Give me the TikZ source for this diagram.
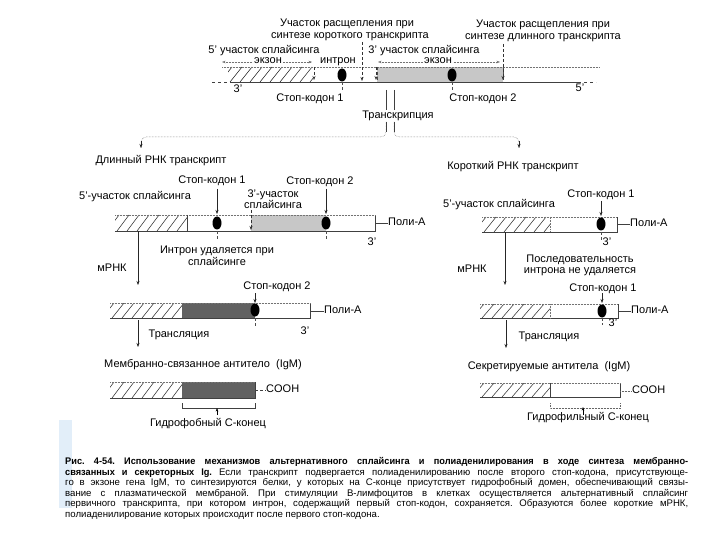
\documentclass[tikz,border=0pt]{standalone}
\usepackage{fontspec}
\setmainfont{Liberation Sans}
\newfontfamily\capfont[BoldFeatures={FakeStretch=0.96}]{Liberation Sans}
\usetikzlibrary{arrows.meta}
\definecolor{scanblue}{RGB}{226,238,249}
\frenchspacing
\newcommand\myhatch[4]{%
  \begin{scope}
    \clip (#1,#2) rectangle (#3,#4);
    \foreach \k in {0,...,16}{
      \draw[hline] ({#1-8+\k*10},#4) -- ({#1+4+\k*10},#2);
    }
  \end{scope}}
\begin{document}
\begin{tikzpicture}[x=1pt,y=-1pt,
  lbl/.style={font=\fontsize{11}{12}\selectfont, inner sep=0pt, text height=7.9pt, text depth=2.1pt},
  hline/.style={line width=0.55pt, black!80},
  boxline/.style={line width=0.5pt, black!75},
  topline/.style={line width=0.5pt, black!55, densely dotted},
  tick/.style={line width=0.5pt, black!70, densely dashed},
  arr/.style={line width=0.5pt, black!85, -{Stealth[length=4pt,width=3pt]}},
  darr/.style={line width=0.5pt, black!80, densely dashed, -{Stealth[length=4pt,width=3pt]}},
  dim/.style={line width=0.5pt, black!55, densely dotted, {Stealth[length=3.5pt,width=2.6pt]}-{Stealth[length=3.5pt,width=2.6pt]}},
  light/.style={fill=black!22},
  dark/.style={fill=black!62},
  captxt/.style={font=\capfont\fontsize{9.6}{10.5}\selectfont, inner sep=0pt, anchor=base west},
]
\useasboundingbox (0,0) rectangle (720,540);
\fill[white] (0,0) rectangle (720,540);
\fill[scanblue] (59,420) rectangle (72,508);

% ---------------- top: gene ----------------
\node[lbl] (csa1) at (347,24) {Участок расщепления при};
\node[lbl] (csa2) at (350,36) {синтезе короткого транскрипта};
\node[lbl] (csb1) at (543,25) {Участок расщепления при};
\node[lbl] (csb2) at (543,37) {синтезе длинного транскрипта};
\node[lbl] (ss5) at (264,51) {5' участок сплайсинга};
\node[lbl] (ss3) at (424,51) {3' участок сплайсинга};

\coordinate (ex1l) at (222,62); \coordinate (ex1r) at (312,62);
\coordinate (ex2l) at (378,62); \coordinate (ex2r) at (500,62);
\draw[dim] (ex1l) -- (ex1r);
\draw[dim] (ex2l) -- (ex2r);
\node[lbl, fill=white, inner xsep=1.5pt] (exon1) at (268,61) {экзон};
\node[lbl, fill=white, inner xsep=1.5pt] (exon2) at (438,61) {экзон};
\node[lbl] (intron) at (338,61) {интрон};

\myhatch{228}{67}{313}{82}
\fill[light] (377,67) rectangle (503,82);
\draw[topline] (222,67) -- (600,67);
\draw[boxline] (232,82) -- (578,82);
\draw[boxline, dashed] (212,82) -- (232,82);
\draw[boxline, dashed] (578,82) -- (596,82);
\draw[tick] (377,67) -- (377,82);
\draw[tick] (503,67) -- (503,82);

\coordinate (m1a) at (314,67); \coordinate (m1b) at (314,80);
\coordinate (m2a) at (362,42); \coordinate (m2b) at (362,81);
\coordinate (m3a) at (376,67); \coordinate (m3b) at (376,80);
\coordinate (m4a) at (503,44); \coordinate (m4b) at (503,80);
\draw[darr] (m1a) -- (m1b);
\draw[darr] (m2a) -- (m2b);
\draw[darr] (m3a) -- (m3b);
\draw[darr] (m4a) -- (m4b);

\coordinate (d1) at (342,75); \coordinate (d2) at (452,75);
\fill[black] (d1) ellipse (4.5 and 6.5);
\fill[black] (d2) ellipse (4.5 and 6.5);
\draw[tick] (342,82) -- (342,91);
\draw[tick] (452,82) -- (452,91);
\node[lbl] (p3a) at (238,90) {3'};
\node[lbl] (p5a) at (580,89) {5'};
\node[lbl] (sc1) at (310,99) {Стоп-кодон 1};
\node[lbl] (sc2) at (483,99) {Стоп-кодон 2};

% ---------------- transcription ----------------
\draw[boxline] (386,90) -- (386,110);
\draw[boxline] (394,90) -- (394,110);
\node[lbl] (trans) at (398,116) {Транскрипция};
\coordinate (brL) at (386,122); \coordinate (brR) at (394,122);
\coordinate (tgL) at (141,148); \coordinate (tgR) at (519,148);
\draw[line width=0.5pt, black!60, densely dotted, rounded corners=5pt] (brL) -- (386,137) -- (141,137) -- (tgL);
\draw[line width=0.5pt, black!60, densely dotted, rounded corners=5pt] (brR) -- (394,137) -- (519,137) -- (tgR);
\draw[boxline] (brL) -- (386,132);
\draw[boxline] (brR) -- (394,132);
\draw[arr] (141,141) -- (tgL);
\draw[arr] (519,141) -- (tgR);

\node[lbl] (longT) at (161,161) {Длинный РНК транскрипт};
\node[lbl] (shortT) at (513,167) {Короткий РНК транскрипт};

% ---------------- left: long transcript ----------------
\node[lbl] (lsc1) at (212,181) {Стоп-кодон 1};
\node[lbl] (lsc2) at (320,182) {Стоп-кодон 2};
\node[lbl] (lss5) at (135,197) {5'-участок сплайсинга};
\node[lbl] (lss3a) at (273,195) {3'-участок};
\node[lbl] (lss3b) at (273,206) {сплайсинга};

\myhatch{115}{215}{187}{231}
\fill[light] (251,215) rectangle (326,231);
\draw[boxline] (115,231) -- (375,231) -- (375,215);
\draw[topline] (115,215) -- (375,215);
\draw[boxline] (187,215) -- (187,231);
\draw[darr] (251,210) -- (251,230);
\coordinate (lb1) at (217,223); \coordinate (lb2) at (326,223);
\fill[black] (lb1) ellipse (4.5 and 6.5);
\fill[black] (lb2) ellipse (4.5 and 6.5);
\draw[arr] (217,189) -- (217,214);
\draw[arr] (326,189) -- (326,214);
\draw[tick] (217,231) -- (217,240);
\draw[tick] (326,231) -- (326,240);
\node[lbl, anchor=west] (lpa1) at (388,223) {Поли-А};
\draw[boxline] (375,223) -- (lpa1.west);
\node[lbl] (l3a) at (372,243) {3'};
\node[lbl] (lintr1) at (217,251) {Интрон удаляется при};
\node[lbl] (lintr2) at (217,263) {сплайсинге};
\node[lbl] (lmrna) at (112,269) {мРНК};
\coordinate (la1) at (138,231); \coordinate (la2) at (138,285);
\draw[arr] (la1) -- (la2);

\node[lbl] (lsc2b) at (277,287) {Стоп-кодон 2};
\draw[arr] (255,293) -- (255,303);
\fill[dark] (182,303) rectangle (255,318);
\myhatch{110}{303}{182}{318}
\draw[boxline] (110,318) -- (310,318) -- (310,303);
\draw[topline] (110,303) -- (310,303);
\fill[black] (255,310) ellipse (4.5 and 6.5);
\draw[tick] (255,318) -- (255,326);
\node[lbl, anchor=west] (lpa2) at (324,311) {Поли-А};
\draw[boxline] (310,311) -- (lpa2.west);
\node[lbl] (l3b) at (305,332) {3'};
\coordinate (lt1) at (138,320); \coordinate (lt2) at (138,347);
\draw[arr] (lt1) -- (lt2);
\node[lbl] (ltr) at (179,335) {Трансляция};
\node[lbl] (lmem) at (203,365) {Мембранно-связанное антитело\ \ (IgM)};

\fill[dark] (182,382) rectangle (255,398);
\myhatch{110}{382}{182}{398}
\draw[boxline] (110,398) -- (255,398) -- (255,382);
\draw[topline] (110,382) -- (255,382);
\node[lbl, anchor=west] (lcooh) at (266,390) {COOH};
\draw[boxline, densely dashed] (255,390) -- (lcooh.west);
\draw[boxline] (182,403) -- (182,408) -- (255,408) -- (255,403);
\draw[line width=0.5pt, -{Stealth[length=3.5pt,width=2.6pt]}] (217,415) -- (217,408);
\node[lbl] (lhyd) at (208,424) {Гидрофобный С-конец};

% ---------------- right: short transcript ----------------
\node[lbl] (rsc1) at (601,195) {Стоп-кодон 1};
\node[lbl] (rss5) at (499,205) {5'-участок сплайсинга};
\myhatch{482}{217}{550}{232}
\draw[boxline] (482,232) -- (617,232) -- (617,217);
\draw[topline] (482,217) -- (617,217);
\draw[topline] (550,217) -- (550,232);
\fill[black] (601,224) ellipse (4.5 and 6.5);
\draw[arr] (601,201) -- (601,216);
\draw[tick] (601,232) -- (601,241);
\node[lbl, anchor=west] (rpa1) at (630,224) {Поли-А};
\draw[boxline] (617,224) -- (rpa1.west);
\node[lbl] (r3a) at (607,243) {3'};
\node[lbl] (rseq1) at (580,260) {Последовательность};
\node[lbl] (rseq2) at (580,271) {интрона не удаляется};
\node[lbl] (rmrna) at (472,270) {мРНК};
\coordinate (ra1) at (505,232); \coordinate (ra2) at (505,285);
\draw[arr] (ra1) -- (ra2);

\node[lbl] (rsc1b) at (603,289) {Стоп-кодон 1};
\draw[arr] (602,293) -- (602,303);
\myhatch{480}{304}{550}{318}
\draw[boxline] (480,318) -- (618,318) -- (618,304);
\draw[topline] (480,304) -- (618,304);
\draw[topline] (550,304) -- (550,318);
\fill[black] (602,311) ellipse (4.5 and 6.5);
\draw[tick] (602,318) -- (602,325);
\node[lbl, anchor=west] (rpa2) at (631,311) {Поли-А};
\draw[boxline] (618,311) -- (rpa2.west);
\node[lbl] (r3b) at (613,324) {3'};
\coordinate (rt1) at (506,320); \coordinate (rt2) at (506,348);
\draw[arr] (rt1) -- (rt2);
\node[lbl] (rtr) at (549,337) {Трансляция};
\node[lbl] (rsec) at (549,367) {Секретируемые антитела\ \ (IgM)};

\myhatch{480}{383}{550}{397}
\draw[boxline] (480,397) -- (620,397) -- (620,383);
\draw[topline] (480,383) -- (620,383);
\draw[boxline] (550,383) -- (550,397);
\node[lbl, anchor=west] (rcooh) at (632,391) {COOH};
\draw[line width=0.5pt, black!60, densely dotted] (620,391) -- (rcooh.west);
\draw[line width=0.5pt, black!60, densely dotted] (550,403) -- (550,408) -- (620,408) -- (620,403);
\draw[line width=0.5pt, -{Stealth[length=3.5pt,width=2.6pt]}] (583,415) -- (583,407);
\node[lbl] (rhyd) at (588,418) {Гидрофильный С-конец};

% ---------------- caption ----------------
\node[captxt] (c1) at (65,464.5) {\makebox[623pt][s]{\bfseries Рис. 4-54. Использование механизмов альтернативного сплайсинга и полиаденилирования в ходе синтеза мембранно-}};
\node[captxt] (c2) at (65,475) {\makebox[623pt][s]{\bfseries связанных и секреторных Ig. \mdseries Если транскрипт подвергается полиаденилированию после второго стоп-кодона, присутствующе-}};
\node[captxt] (c3) at (65,485.5) {\makebox[623pt][s]{го в экзоне гена IgM, то синтезируются белки, у которых на С-конце присутствует гидрофобный домен, обеспечивающий связы-}};
\node[captxt] (c4) at (65,496) {\makebox[623pt][s]{вание с плазматической мембраной. При стимуляции В-лимфоцитов в клетках осуществляется альтернативный сплайсинг}};
\node[captxt] (c5) at (65,506.5) {\makebox[623pt][s]{первичного транскрипта, при котором интрон, содержащий первый стоп-кодон, сохраняется. Образуются более короткие мРНК,}};
\node[captxt] (c6) at (65,517) {полиаденилирование которых происходит после первого стоп-кодона.};
\end{tikzpicture}
\end{document}
